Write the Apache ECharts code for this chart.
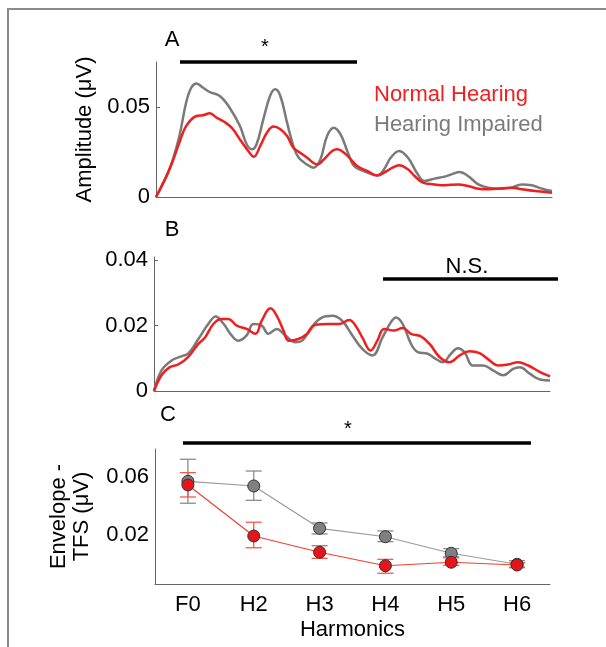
<!DOCTYPE html>
<html lang="en">
<head>
  <meta charset="UTF-8">
  <title>Envelope - TFS</title>
  <script src="https://cdn.jsdelivr.net/npm/echarts@6.0.0/dist/echarts.min.js"></script>
  <style>
    html, body { margin: 0; padding: 0; background: #fff; }
  </style>
</head>
<body>

  <div id="main" style="width: 606px;height:647px;"></div>

  <script type="text/javascript">
    // Panel A spectra: [frequency, amplitude]
    const aNormal = [
      [0, 0], [34, 0.0154], [59, 0.0302], [76, 0.0394], [102, 0.0450], [119, 0.0454],
      [136, 0.0465], [153, 0.0441], [169, 0.0422], [191, 0.0385], [212, 0.0320],
      [233, 0.0256], [247, 0.0224], [263, 0.0283], [280, 0.0357], [297, 0.0391],
      [314, 0.0376], [331, 0.0339], [347, 0.0274], [364, 0.0246], [381, 0.0219],
      [407, 0.0181], [424, 0.0209], [445, 0.0256], [458, 0.0265], [475, 0.0246],
      [492, 0.0209], [508, 0.0172], [534, 0.0144], [559, 0.0120], [576, 0.0135],
      [597, 0.0163], [614, 0.0176], [636, 0.0154], [653, 0.0117], [674, 0.0080],
      [703, 0.0070], [729, 0.0065], [763, 0.0070], [788, 0.0061], [814, 0.0046],
      [839, 0.0043], [873, 0.0048], [898, 0.0052], [924, 0.0043], [958, 0.0033],
      [1000, 0.0024]
    ];
    const aImpaired = [
      [0, 0], [34, 0.0154], [59, 0.0339], [76, 0.0524], [89, 0.0607], [102, 0.0631],
      [119, 0.0607], [136, 0.0583], [161, 0.0561], [186, 0.0496], [212, 0.0394],
      [229, 0.0293], [242, 0.0265], [254, 0.0293], [271, 0.0431], [288, 0.0561],
      [301, 0.0598], [314, 0.0561], [331, 0.0413], [347, 0.0283], [360, 0.0219],
      [381, 0.0181], [398, 0.0163], [415, 0.0209], [432, 0.0339], [449, 0.0385],
      [466, 0.0348], [483, 0.0256], [500, 0.0172], [525, 0.0144], [559, 0.0120],
      [576, 0.0154], [593, 0.0219], [614, 0.0256], [636, 0.0219], [661, 0.0126],
      [678, 0.0089], [703, 0.0102], [729, 0.0113], [746, 0.0126], [767, 0.0139],
      [788, 0.0117], [814, 0.0070], [839, 0.0052], [873, 0.0046], [898, 0.0052],
      [924, 0.0070], [949, 0.0065], [975, 0.0046], [1000, 0.0033]
    ];

    // Panel B spectra
    const bNormal = [
      [0, 0], [19, 0.0048], [40, 0.0073], [61, 0.0081], [86, 0.0104], [112, 0.0144],
      [129, 0.0164], [150, 0.0205], [171, 0.0220], [188, 0.0220], [209, 0.0200],
      [234, 0.0190], [256, 0.0175], [272, 0.0215], [294, 0.0253], [310, 0.0230],
      [327, 0.0185], [340, 0.0154], [365, 0.0159], [387, 0.0175], [408, 0.0203],
      [442, 0.0205], [467, 0.0205], [493, 0.0217], [509, 0.0200], [526, 0.0164],
      [547, 0.0124], [564, 0.0154], [581, 0.0190], [607, 0.0185], [628, 0.0193],
      [649, 0.0175], [674, 0.0167], [696, 0.0144], [721, 0.0104], [746, 0.0088],
      [772, 0.0109], [797, 0.0122], [822, 0.0116], [848, 0.0093], [869, 0.0078],
      [894, 0.0081], [919, 0.0088], [945, 0.0078], [975, 0.0058], [1000, 0.0045]
    ];
    const bImpaired = [
      [0, 0], [19, 0.0063], [44, 0.0093], [69, 0.0106], [86, 0.0114], [112, 0.0159],
      [137, 0.0205], [156, 0.0228], [176, 0.0205], [196, 0.0170], [213, 0.0154],
      [234, 0.0170], [251, 0.0205], [272, 0.0200], [289, 0.0175], [310, 0.0190],
      [332, 0.0170], [357, 0.0149], [374, 0.0154], [399, 0.0197], [425, 0.0225],
      [450, 0.0230], [475, 0.0215], [501, 0.0170], [526, 0.0129], [552, 0.0109],
      [577, 0.0164], [598, 0.0210], [611, 0.0225], [628, 0.0205], [649, 0.0144],
      [666, 0.0119], [691, 0.0114], [712, 0.0098], [729, 0.0088], [750, 0.0114],
      [767, 0.0131], [784, 0.0119], [805, 0.0078], [831, 0.0078], [856, 0.0063],
      [882, 0.0048], [907, 0.0068], [924, 0.0073], [949, 0.0053], [975, 0.0035],
      [1000, 0.0032]
    ];

    // Panel C: envelope - TFS per harmonic, with error bar limits
    const harmonics = ['F0', 'H2', 'H3', 'H4', 'H5', 'H6'];
    const cNormal = [0.0545, 0.0193, 0.0081, -0.0012, 0.0012, -0.0007];
    const cNormalLow = [0.0462, 0.0112, 0.0039, -0.0064, -0.0010, -0.0022];
    const cNormalHigh = [0.0630, 0.0288, 0.0126, 0.0032, 0.0043, 0.0008];
    const cImpaired = [0.0570, 0.0538, 0.0246, 0.0188, 0.0074, -0.0002];
    const cImpairedLow = [0.0419, 0.0439, 0.0207, 0.0154, 0.0050, -0.0026];
    const cImpairedHigh = [0.0722, 0.0641, 0.0283, 0.0228, 0.0106, 0.0023];

    const RED = '#f01e1e';
    const GRAY = '#7a7a7a';
    const FONT = 'Liberation Sans, Arial, sans-serif';

    let myChart = echarts.init(document.getElementById('main'));

    const axisLine = { onZero: false, lineStyle: { color: '#666', width: 1 } };
    const tickIn = { inside: true, length: 4, lineStyle: { color: '#666' } };
    const label = { color: '#000', fontSize: 22, fontFamily: FONT };

    function errBars(low, high) {
      return low.map((l, i) => [i, l, high[i]]);
    }

    function renderErr(params, api) {
      const x = api.value(0);
      const top = api.coord([x, api.value(2)]);
      const bot = api.coord([x, api.value(1)]);
      const color = params.seriesName === 'Normal Hearing' ? '#f25a4a' : '#8c8c8c';
      const w = 8;
      const st = { stroke: color, lineWidth: 1.3 };
      return {
        type: 'group',
        children: [
          { type: 'line', shape: { x1: top[0], y1: top[1], x2: bot[0], y2: bot[1] }, style: st },
          { type: 'line', shape: { x1: top[0] - w, y1: top[1], x2: top[0] + w, y2: top[1] }, style: st },
          { type: 'line', shape: { x1: bot[0] - w, y1: bot[1], x2: bot[0] + w, y2: bot[1] }, style: st }
        ]
      };
    }

    // annotation text, centred on (x, y)
    function txt(x, y, s, size) {
      return {
        type: 'text', x: x, y: y,
        style: { text: s, fill: '#000', font: size + 'px ' + FONT, align: 'center', verticalAlign: 'middle' }
      };
    }
    function bar(x1, x2, y) {
      return { type: 'line', shape: { x1: x1, y1: y, x2: x2, y2: y }, style: { stroke: '#000', lineWidth: 3.5 } };
    }

    let options = {
      animation: false,
      textStyle: { fontFamily: FONT },
      legend: {
        left: 364, top: 79, orient: 'vertical', itemWidth: 0, itemHeight: 22, itemGap: 8,
        icon: 'none', selectedMode: false,
        textStyle: { fontSize: 22, fontFamily: FONT, padding: 0 },
        data: [
          { name: 'Normal Hearing', textStyle: { color: RED } },
          { name: 'Hearing Impaired', textStyle: { color: GRAY } }
        ]
      },
      grid: [
        { left: 156, top: 62, width: 396, height: 135 },
        { left: 154, top: 257, width: 396, height: 134 },
        { left: 155, top: 449, width: 395, height: 135 }
      ],
      xAxis: [
        { gridIndex: 0, type: 'value', min: 0, max: 1000, axisLine: axisLine, axisTick: { show: false }, axisLabel: { show: false }, splitLine: { show: false } },
        { gridIndex: 1, type: 'value', min: 0, max: 1000, axisLine: axisLine, axisTick: { show: false }, axisLabel: { show: false }, splitLine: { show: false } },
        {
          gridIndex: 2, type: 'category', data: harmonics, boundaryGap: true,
          axisLine: axisLine, axisTick: Object.assign({ alignWithLabel: true }, tickIn),
          axisLabel: Object.assign({ margin: 10 }, label),
          name: 'Harmonics', nameLocation: 'middle', nameGap: 35,
          nameTextStyle: { color: '#000', fontSize: 22, fontFamily: FONT }
        }
      ],
      yAxis: [
        {
          gridIndex: 0, type: 'value', min: 0, max: 0.075,
          axisLine: Object.assign({ show: true }, axisLine),
          axisTick: Object.assign({ customValues: [0, 0.05] }, tickIn),
          axisLabel: Object.assign({ customValues: [0, 0.05], margin: 6 }, label),
          splitLine: { show: false },
          name: 'Amplitude (μV)', nameLocation: 'middle', nameGap: 55,
          nameTextStyle: { color: '#000', fontSize: 22, fontFamily: FONT }
        },
        {
          gridIndex: 1, type: 'value', min: 0, max: 0.041,
          axisLine: Object.assign({ show: true }, axisLine),
          axisTick: Object.assign({ customValues: [0, 0.02, 0.04] }, tickIn),
          axisLabel: Object.assign({ customValues: [0, 0.02, 0.04], margin: 6 }, label),
          splitLine: { show: false }
        },
        {
          gridIndex: 2, type: 'value', min: -0.0138, max: 0.0793,
          axisLine: Object.assign({ show: true }, axisLine),
          axisTick: Object.assign({ customValues: [0.02, 0.06] }, tickIn),
          axisLabel: Object.assign({ customValues: [0.02, 0.06], margin: 6 }, label),
          splitLine: { show: false },
          name: 'Envelope -\nTFS (μV)', nameLocation: 'middle', nameGap: 62,
          nameTextStyle: { color: '#000', fontSize: 22, fontFamily: FONT, lineHeight: 23 }
        }
      ],
      series: [
        { name: 'Hearing Impaired', type: 'line', xAxisIndex: 0, yAxisIndex: 0, data: aImpaired, smooth: 0.4, showSymbol: false, lineStyle: { color: GRAY, width: 2.5 }, itemStyle: { color: GRAY } },
        { name: 'Normal Hearing', type: 'line', xAxisIndex: 0, yAxisIndex: 0, data: aNormal, smooth: 0.4, showSymbol: false, lineStyle: { color: RED, width: 2.5 }, itemStyle: { color: RED } },
        { name: 'Hearing Impaired', type: 'line', xAxisIndex: 1, yAxisIndex: 1, data: bImpaired, smooth: 0.4, showSymbol: false, lineStyle: { color: GRAY, width: 2.5 }, itemStyle: { color: GRAY } },
        { name: 'Normal Hearing', type: 'line', xAxisIndex: 1, yAxisIndex: 1, data: bNormal, smooth: 0.4, showSymbol: false, lineStyle: { color: RED, width: 2.5 }, itemStyle: { color: RED } },
        { name: 'Hearing Impaired', type: 'custom', xAxisIndex: 2, yAxisIndex: 2, data: errBars(cImpairedLow, cImpairedHigh), renderItem: renderErr, z: 1 },
        { name: 'Normal Hearing', type: 'custom', xAxisIndex: 2, yAxisIndex: 2, data: errBars(cNormalLow, cNormalHigh), renderItem: renderErr, z: 1 },
        {
          name: 'Hearing Impaired', type: 'line', xAxisIndex: 2, yAxisIndex: 2, data: cImpaired, z: 3,
          symbol: 'circle', symbolSize: 12, lineStyle: { color: '#9a9a9a', width: 1.2 },
          itemStyle: { color: '#808080', borderColor: '#333', borderWidth: 1 }
        },
        {
          name: 'Normal Hearing', type: 'line', xAxisIndex: 2, yAxisIndex: 2, data: cNormal, z: 4,
          symbol: 'circle', symbolSize: 12, lineStyle: { color: '#f0402e', width: 1.2 },
          itemStyle: { color: '#e8141c', borderColor: '#333', borderWidth: 1 }
        }
      ],
      graphic: [
        // frame
        { type: 'polyline', shape: { points: [[8, 647], [8, 9], [606, 9]] }, style: { stroke: '#8a8a8a', lineWidth: 2, fill: null } },
        txt(172, 40, 'A', 22),
        bar(180, 357, 62),
        txt(265, 47, '*', 20),
        txt(172, 230, 'B', 22),
        bar(383, 558, 279),
        txt(467, 267, 'N.S.', 22),
        txt(168, 415, 'C', 22),
        bar(183, 531, 443),
        txt(348, 429, '*', 20)
      ]
    };

    myChart.setOption(options);
  </script>
</body>
</html>
